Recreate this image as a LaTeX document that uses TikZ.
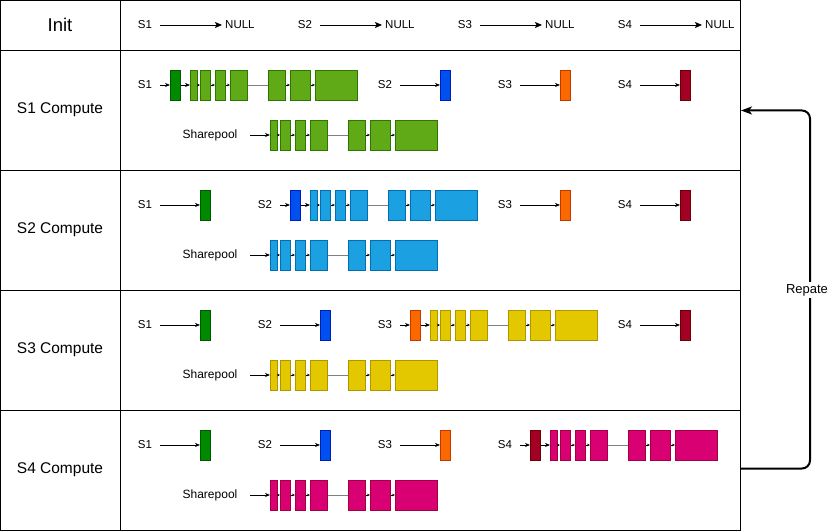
\documentclass[tikz,border=0pt]{standalone}
\usepackage{fontspec}
\setmainfont{Liberation Sans}
\usetikzlibrary{arrows.meta}

\definecolor{dk1}{HTML}{008A00}\definecolor{dkb1}{HTML}{005700}
\definecolor{dk2}{HTML}{0050EF}\definecolor{dkb2}{HTML}{001DBC}
\definecolor{dk3}{HTML}{FA6800}\definecolor{dkb3}{HTML}{C73500}
\definecolor{dk4}{HTML}{A20025}\definecolor{dkb4}{HTML}{6F0000}
\definecolor{lt1}{HTML}{60A917}\definecolor{ltb1}{HTML}{2D7600}
\definecolor{lt2}{HTML}{1BA1E2}\definecolor{ltb2}{HTML}{006EAF}
\definecolor{lt3}{HTML}{E3C800}\definecolor{ltb3}{HTML}{B09500}
\definecolor{lt4}{HTML}{D80073}\definecolor{ltb4}{HTML}{A50040}

\tikzset{
  blk/.style={draw, inner sep=0pt, minimum height=30, anchor=west, line width=0.8pt},
  lbl/.style={inner sep=0pt, minimum width=30, font=\fontsize{11.5}{13}\selectfont},
  arr/.style={-{Stealth[length=5pt,width=4pt]}, line width=0.7pt},
  bigarr/.style={-{Stealth[length=7pt,width=6pt,inset=1.5pt]}, line width=0.8pt},
  link/.style={-{Stealth[length=3pt,width=2.5pt]}, line width=0.6pt},
  skipline/.style={draw=gray, line width=0.8pt},
}

% seven boxes of one queue: name prefix, left x, y, colour number
\newcommand{\boxchain}[4]{%
  \foreach \k/\dx/\w in {1/0/7,2/10/10,3/25/10,4/40/17,5/78/17,6/100/20,7/125/42}
    \node[blk, fill=lt#4, draw=ltb#4, minimum width=\w] (#1\k) at ({#2+\dx},#3) {};
  \foreach \a/\b in {1/2,2/3,3/4,5/6,6/7}
    \draw[link] (#1\a) -- (#1\b);
  \draw[skipline] (#14) -- (#15);
}

\begin{document}
\begin{tikzpicture}[x=1pt,y=-1pt]
\useasboundingbox (0,0) rectangle (838,532);

% table
\draw[line width=0.9pt] (0.5,0.5) rectangle (740,530);
\draw[line width=0.9pt] (120,0.5) -- (120,530);
\foreach \yy in {50,170,290,410}
  \draw[line width=0.9pt] (0.5,\yy) -- (740,\yy);

% init row
\node[font=\fontsize{18.5}{21}\selectfont] (init) at (60,25) {Init};
\foreach \s in {1,...,4} {
  \node[lbl] (i\s) at ({145+160*(\s-1)},25) {S\s};
  \node[lbl, anchor=west, inner sep=0pt, minimum width=0] (n\s) at ({225+160*(\s-1)},25) {NULL};
  \draw[bigarr] (i\s) -- ([xshift=-3pt]n\s.west);
}

% compute rows
\foreach \r in {1,...,4} {
  \pgfmathsetmacro{\yt}{85+120*(\r-1)}
  \pgfmathsetmacro{\yp}{\yt+50}
  \node[font=\fontsize{15.5}{18}\selectfont] (row\r) at (60,{\yt+25}) {S\r{} Compute};
  \foreach \s in {1,...,4} {
    \pgfmathsetmacro{\sx}{120*(\s-1)+120*(\s>\r)}
    \node[lbl] (l\r\s) at ({145+\sx},\yt) {S\s};
    \ifnum\s=\r
      \node[blk, fill=dk\s, draw=dkb\s, minimum width=10] (b\r\s) at ({170+\sx},\yt) {};
      \boxchain{c\r-}{190+\sx}{\yt}{\r}
      \draw[arr] (b\r\s) -- (c\r-1);
    \else
      \node[blk, fill=dk\s, draw=dkb\s, minimum width=10] (b\r\s) at ({200+\sx},\yt) {};
    \fi
    \draw[arr] (l\r\s) -- (b\r\s);
  }
  \node[lbl, minimum width=80, font=\fontsize{12}{14}\selectfont] (sp\r) at (210,\yp) {Sharepool};
  \boxchain{p\r-}{270}{\yp}{\r}
  \draw[arr] (sp\r) -- (p\r-1);
}

% repeat loop
\coordinate (rs) at (740,468.5);
\coordinate (rt) at (810,290);
\coordinate (re) at (741,110.5);
\draw[line width=2pt, rounded corners=8pt, -{Stealth[length=11pt,width=8pt,inset=3pt]}] (rs) -| (rt) |- (re);
\node[fill=white, inner sep=2pt, font=\fontsize{13}{15}\selectfont] (rep) at (807,290) {Repate};
\end{tikzpicture}
\end{document}
